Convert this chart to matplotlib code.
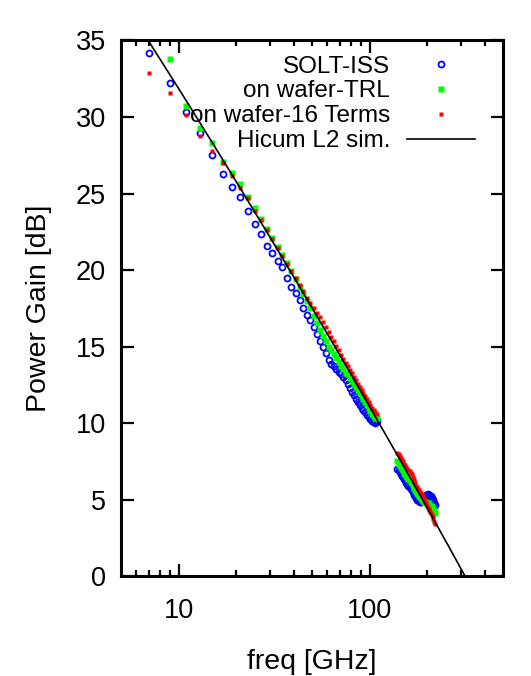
import numpy as np
import matplotlib.pyplot as plt
from matplotlib.ticker import FixedLocator, FixedFormatter, NullFormatter

plt.rcParams['font.family'] = ['Liberation Sans', 'DejaVu Sans']

# frequency grids [GHz]
freq_low = [7, 9, 11, 13, 15, 17, 19, 21, 23, 25, 27, 29, 31, 33, 35, 37, 39, 41, 43, 45,
            47, 49, 51, 53, 55, 57, 59, 61, 63, 65, 67, 69, 71, 73, 75, 77, 79, 81, 83, 85,
            87, 89, 91, 93, 95, 97, 99, 101, 103, 105, 107, 109]
freq_high = [140, 142, 144, 146, 148, 150, 152, 154, 156, 158, 160, 162, 164, 166, 168, 170,
             172, 174, 176, 178, 180, 182, 184, 186, 188, 190, 192, 194, 196, 198, 200, 202,
             204, 206, 208, 210, 212, 214, 216, 218, 220]

# power gain [dB]
solt_low = [34.15, 32.2, 30.3, 28.95, 27.5, 26.3, 25.45, 24.75, 23.85, 23.0, 22.35, 21.6, 21.1,
            20.6, 20.2, 19.45, 18.9, 18.5, 18.05, 17.5, 17.05, 16.75, 16.25, 15.8, 15.35, 15.0,
            14.55, 14.15, 13.85, 13.7, 13.5, 13.35, 13.2, 13.0, 12.8, 12.55, 12.3, 12.05, 11.85,
            11.6, 11.4, 11.2, 11.0, 10.85, 10.7, 10.55, 10.4, 10.25, 10.15, 10.05, 10.0, 10.1]
solt_high = [7.0, 6.9, 6.8, 6.65, 6.55, 6.45, 6.35, 6.25, 6.1, 6.0, 5.9, 5.8, 5.7, 5.6, 5.5, 5.4,
             5.3, 5.2, 5.1, 5.0, 4.95, 4.9, 4.85, 4.85, 4.9, 4.95, 5.05, 5.15, 5.2, 5.3, 5.3, 5.35,
             5.3, 5.3, 5.25, 5.2, 5.1, 5.0, 4.9, 4.8, 4.65]

trl_low = [np.nan, 33.76, 30.7, 29.25, 28.3, 27.05, 26.35, 25.65, 24.8, 24.05, 23.35, 22.7, 22.1,
           21.5, 21.0, 20.45, 19.95, 19.4, 18.9, 18.4, 17.95, 17.5, 17.0, 16.55, 16.1, 15.7,
           15.35, 15.0, 14.75, 14.5, 14.25, 14.0, 13.75, 13.5, 13.3, 13.2, 12.95, 12.75, 12.55,
           12.35, 12.15, 11.95, 11.75, 11.55, 11.35, 11.15, 10.95, 10.8, 10.6, 10.45, 10.35, 10.3]
trl_high = [7.5, 7.35, 7.25, 7.1, 7.0, 6.9, 6.75, 6.65, 6.55, 6.45, 6.35, 6.25, 6.15, 6.05, 5.95,
            5.85, 5.75, 5.65, 5.55, 5.45, 5.35, 5.25, 5.15, 5.1, 5.0, 4.95, 4.9, 4.85, 4.85, 4.8,
            4.8, 4.75, 4.7, 4.65, 4.6, 4.55, 4.5, 4.4, 4.3, 4.2, 4.1]

t16_low = [32.86, 31.6, 30.13, 28.76, 27.8, 26.97, 26.14, 25.34, 24.69, 23.88, 23.25, 22.6, 22.0,
           21.45, 20.9, 20.4, 19.95, 19.5, 19.05, 18.6, 18.2, 17.85, 17.5, 17.2, 16.9, 16.6,
           16.3, 15.95, 15.65, 15.35, 15.05, 14.75, 14.45, 14.2, 13.95, 13.7, 13.45, 13.25, 13.0,
           12.8, 12.55, 12.35, 12.15, 11.95, 11.75, 11.55, 11.35, 11.15, 11.0, 10.85, 10.7, 10.6]
t16_high = [8.05, 7.95, 7.85, 7.7, 7.6, 7.5, 7.35, 7.25, 7.1, 7.0, 6.9, 6.85, 6.75, 6.65, 6.5,
            6.35, 6.2, 6.05, 5.9, 5.8, 5.7, 5.6, 5.5, 5.4, 5.3, 5.2, 5.1, 5.0, 4.9, 4.75, 4.65,
            4.5, 4.4, 4.3, 4.2, 4.1, 4.0, 3.85, 3.7, 3.55, 3.4]

# Hicum L2 simulation
sim_freq = [6.9, 10, 15, 20, 30, 40, 60, 80, 100, 150, 200, 250, 316]
sim_gain = [35.05, 31.87, 28.34, 25.80, 22.18, 19.57, 15.85, 13.18, 11.08, 7.24, 4.47, 2.31, 0.0]

freq = freq_low + freq_high
solt = solt_low + solt_high
trl = trl_low + trl_high
t16 = t16_low + t16_high

fig = plt.figure(figsize=(5.31, 6.76), dpi=100)
ax = fig.add_axes([0.2279, 0.1479, 0.7194, 0.7922])

ax.plot(freq, solt, 'o', ms=4.3, mfc='none', mec='#0000ff', mew=1.3, label='SOLT-ISS')
ax.plot(freq, trl, 's', ms=4.2, color='#00ff00', mec='none', label='on wafer-TRL')
ax.plot(freq, t16, 's', ms=3.3, color='#ff0000', mec='none', label='on wafer-16 Terms')
ax.plot(sim_freq, sim_gain, '-', color='black', lw=1.2, label='Hicum L2 sim.')

ax.set_xscale('log')
ax.set_xlim(5, 500)
ax.set_ylim(0, 35)
ax.xaxis.set_major_locator(FixedLocator([10, 100]))
ax.xaxis.set_major_formatter(FixedFormatter(['10', '100']))
ax.xaxis.set_minor_locator(FixedLocator([6, 7, 8, 9, 20, 30, 40, 50, 60, 70, 80, 90, 200, 300, 400]))
ax.xaxis.set_minor_formatter(NullFormatter())
ax.set_yticks([0, 5, 10, 15, 20, 25, 30, 35])

ax.tick_params(which='both', direction='in', top=True, right=True, width=1.6, colors='black')
ax.tick_params(which='major', length=9, labelsize=19.5)
ax.tick_params(which='minor', length=4.5)
ax.tick_params(axis='x', pad=16)
ax.tick_params(axis='y', pad=11)
for s in ax.spines.values():
    s.set_linewidth(2.2)

ax.set_xlabel('freq [GHz]', fontsize=20.5, labelpad=18)
ax.set_ylabel('Power Gain [dB]', fontsize=20.5, labelpad=17)

# gnuplot style key: right-justified text, sample to the right
ax.legend(loc='upper right', bbox_to_anchor=(0.927, 0.972), frameon=False,
          markerfirst=False, numpoints=1, fontsize=17.5, handlelength=2.8,
          handletextpad=0.7, labelspacing=0.12, borderpad=0, borderaxespad=0)

fig.savefig('out.png', dpi=100)
